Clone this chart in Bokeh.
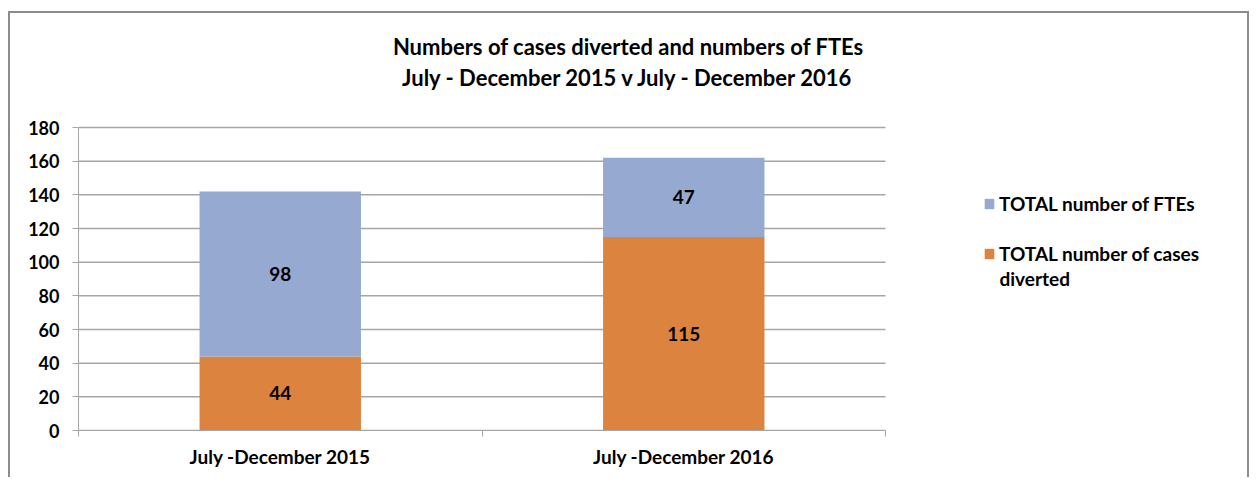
from bokeh.plotting import figure
from bokeh.models import (Range1d, LinearAxis, FixedTicker, ColumnDataSource, LabelSet, Label,
                          Legend, LegendItem)
from bokeh.core.properties import value
from bokeh.embed import file_html
from bokeh.resources import INLINE

categories = ["July -December 2015", "July -December 2016"]
cases_diverted = [44, 115]
ftes = [98, 47]
y_ticks = [0, 20, 40, 60, 80, 100, 120, 140, 160, 180]
series_names = ["TOTAL number of FTEs", "TOTAL number of cases", "diverted"]
title_lines = ["Numbers of cases diverted and numbers of FTEs",
               "July - December 2015 v July - December 2016"]

FONT = "Lato"
BLUE = "#95A9D1"
ORANGE = "#DC843F"
GRID = "#A6A6A6"

n = len(categories)
y_max = y_ticks[-1]
xpos = [i + 0.5 for i in range(n)]

# layout geometry (pixels): plot area 807 x 303, frame extended to hold title and legend
FRAME_W, PLOT_W, FRAME_H, PLOT_H = 1173, 807, 417, 303

p = figure(width=1241, height=466,
           x_range=Range1d(0, n * FRAME_W / PLOT_W), y_range=Range1d(0, y_max * FRAME_H / PLOT_H),
           output_backend="svg", toolbar_location=None, x_axis_location=None,
           min_border_left=68, min_border_right=0, min_border_top=0, min_border_bottom=49,
           outline_line_color=None)
p.styles = {"border": "2px solid #8C8C8C", "border-bottom": "none",
            "margin-left": "8px", "margin-top": "11px"}

# gridlines (limited to the plot area)
p.xgrid.grid_line_color = None
p.ygrid.grid_line_color = None
p.segment(x0=[0] * len(y_ticks), x1=[n] * len(y_ticks), y0=y_ticks, y1=y_ticks,
          line_color=GRID, line_width=1.5)

src = ColumnDataSource(dict(x=xpos, cat=categories, cases=cases_diverted, ftes=ftes,
                            top=[c + f for c, f in zip(cases_diverted, ftes)],
                            cases_mid=[c / 2 for c in cases_diverted],
                            ftes_mid=[c + f / 2 for c, f in zip(cases_diverted, ftes)]))

r_cases = p.vbar(x="x", bottom=0, top="cases", width=0.4, source=src,
                 fill_color=ORANGE, line_color=None)
r_ftes = p.vbar(x="x", bottom="cases", top="top", width=0.4, source=src,
                fill_color=BLUE, line_color=None)

for ycol, tcol in [("cases_mid", "cases"), ("ftes_mid", "ftes")]:
    p.add_layout(LabelSet(x="x", y=ycol, text=tcol, source=src, text_align="center",
                          text_baseline="middle", text_font=value(FONT), text_font_style="bold",
                          text_font_size="19px", text_color="#000000"))

# axes
p.yaxis.ticker = FixedTicker(ticks=y_ticks)
p.yaxis.bounds = (0, y_max)
p.yaxis.axis_line_color = GRID
p.yaxis.major_tick_line_color = GRID
p.yaxis.major_tick_in = 0
p.yaxis.major_tick_out = 6
p.yaxis.minor_tick_line_color = None
p.yaxis.major_label_standoff = 13
p.yaxis.major_label_text_font = FONT
p.yaxis.major_label_text_font_style = "bold"
p.yaxis.major_label_text_font_size = "18px"
p.yaxis.major_label_text_color = "#000000"

sep_axis = LinearAxis(ticker=FixedTicker(ticks=list(range(n + 1))), bounds=(0, n),
                      axis_line_color=GRID, major_tick_line_color=GRID, major_tick_in=0,
                      major_tick_out=6, minor_tick_line_color=None,
                      major_label_overrides={k: "" for k in range(n + 1)},
                      major_label_text_font_size="1px", major_label_standoff=0)
p.add_layout(sep_axis, "below")
cat_axis = LinearAxis(ticker=FixedTicker(ticks=xpos),
                      major_label_overrides={x: c for x, c in zip(xpos, categories)},
                      axis_line_color=None, major_tick_line_color=None, minor_tick_line_color=None,
                      major_label_standoff=2, major_label_text_font=FONT,
                      major_label_text_font_style="bold", major_label_text_font_size="19px",
                      major_label_text_color="#000000")
p.add_layout(cat_axis, "below")

# title (screen offsets from the plot frame's bottom-left corner)
for i, line in enumerate(title_lines):
    p.add_layout(Label(x=550, y=384 - 31 * i, x_units="screen", y_units="screen", text=line,
                       text_align="center", text_baseline="middle", text_font=FONT,
                       text_font_style="bold", text_font_size="22px", text_color="#000000"))

# legend
legend = Legend(items=[LegendItem(label=series_names[0], renderers=[r_ftes]),
                       LegendItem(label=series_names[1], renderers=[r_cases])],
                location=(905, 165), orientation="vertical", spacing=26, padding=0, margin=0,
                glyph_width=12, glyph_height=13, label_standoff=4, label_height=24,
                border_line_color=None, background_fill_alpha=0,
                label_text_font=FONT, label_text_font_style="bold",
                label_text_font_size="19px", label_text_color="#000000")
p.add_layout(legend, "center")
p.add_layout(Label(x=921, y=152, x_units="screen", y_units="screen", text=series_names[2],
                   text_align="left", text_baseline="middle", text_font=FONT,
                   text_font_style="bold", text_font_size="19px", text_color="#000000"))

open("out.html", "w").write(file_html(p, INLINE))
